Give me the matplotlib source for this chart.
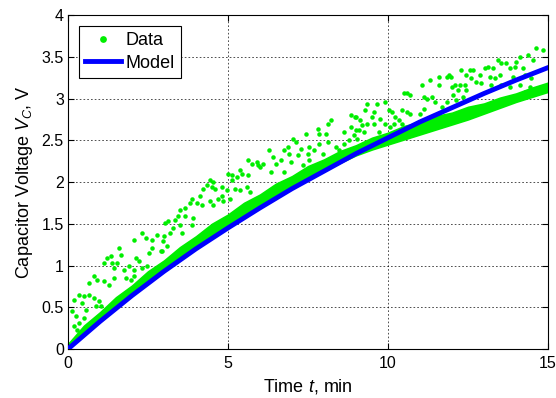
import numpy as np
import matplotlib
matplotlib.use("Agg")
import matplotlib.pyplot as plt

plt.rcParams['font.family'] = ['Liberation Sans', 'DejaVu Sans']
plt.rcParams['mathtext.fontset'] = 'custom'
plt.rcParams['mathtext.rm'] = 'Liberation Sans'
plt.rcParams['mathtext.it'] = 'Liberation Sans:italic'

# model curve
model_t = [0, 1, 2, 3, 4, 5, 6, 7, 8, 9, 10, 11, 12, 13, 14, 15]
model_v = [0, 0.33, 0.64, 0.93, 1.20, 1.45, 1.69, 1.92, 2.13, 2.34, 2.53, 2.72, 2.89, 3.06, 3.22, 3.37]

# dense band of data points (lower / upper edge)
band_t = [0, 0.5, 1, 1.5, 2, 2.5, 3, 3.5, 4, 4.5, 5, 5.5, 6, 6.5, 7, 7.5, 8, 8.5, 9, 9.5,
          10, 10.5, 11, 11.5, 12, 12.5, 13, 13.5, 14, 14.5, 15]
band_lo = [0, 0.17, 0.33, 0.49, 0.64, 0.79, 0.93, 1.07, 1.20, 1.33, 1.45, 1.57, 1.69, 1.81,
           1.92, 2.03, 2.13, 2.23, 2.32, 2.39, 2.45, 2.51, 2.57, 2.63, 2.69, 2.75, 2.82, 2.89,
           2.96, 3.02, 3.08]
band_hi = [0.06, 0.28, 0.44, 0.62, 0.76, 0.93, 1.06, 1.22, 1.35, 1.50, 1.61, 1.75, 1.85,
           1.98, 2.07, 2.19, 2.27, 2.37, 2.44, 2.53, 2.59, 2.67, 2.72, 2.79, 2.83, 2.90, 2.94,
           3.01, 3.06, 3.13, 3.19]

# scattered data points above the band
scat_t = [2.06, 2.32, 2.43, 2.64, 2.79, 3.0, 1.59, 1.65, 1.33, 1.23, 2.11, 2.22, 2.53, 2.64, 2.90,
          1.13, 1.39, 1.54, 1.44, 1.75, 1.91, 2.06, 2.32, 2.48, 0.81, 0.66, 0.92, 1.13, 1.28, 1.44,
          1.80, 1.96, 2.06, 0.19, 0.34, 0.5, 0.66, 0.81, 0.97, 0.45, 0.55, 0.86, 1.02, 0.14, 0.24,
          0.34, 0.19, 0.29, 0.5,
          5.64, 5.74, 5.9, 6.0, 5.38, 5.43, 5.01, 5.11, 5.27, 5.64, 4.44, 4.54, 4.33, 4.23, 4.49,
          4.59, 4.80, 5.11, 4.96, 5.22, 5.38, 5.58, 5.69, 4.13, 3.86, 3.81, 4.02, 4.18, 4.44, 4.54,
          4.80, 4.85, 5.06, 3.66, 3.5, 3.45, 3.34, 3.14, 3.03, 3.29, 3.5, 3.66, 3.86, 3.92, 3.19,
          2.98, 3.08, 2.93, 3.55, 4.70,
          8.84, 9.0, 8.84, 9.0, 8.63, 8.11, 8.22, 7.8, 7.85, 8.06, 7.44, 7.02, 7.13, 6.86, 7.28,
          7.54, 7.70, 7.85, 8.11, 8.38, 8.48, 8.63, 8.79, 6.29, 6.40, 6.76, 6.92, 6.66, 6.97, 7.18,
          7.49, 7.54, 7.96, 8.22, 6.34, 6.76, 6.08, 5.93, 6.5, 7.34,
          11.58, 11.84, 11.9, 11.32, 11.06, 11.58, 12.0, 10.49, 10.59, 10.70, 11.11, 11.22, 11.38,
          11.48, 9.34, 9.66, 9.92, 9.29, 9.55, 10.02, 10.13, 10.44, 10.59, 10.70, 11.01, 11.11,
          8.98, 9.14, 9.5, 9.76, 10.23, 10.33, 9.34, 9.55, 9.92, 10.44, 9.08, 9.24, 9.71, 10.07,
          10.18, 8.93, 9.03, 9.19, 11.69, 11.84,
          14.64, 14.84, 14.38, 14.53, 14.11, 14.01, 13.44, 13.54, 13.13, 13.02, 13.28, 13.70, 13.80,
          13.96, 14.22, 12.29, 12.55, 12.66, 12.45, 12.60, 12.86, 13.18, 13.33, 13.49, 13.91, 14.27,
          14.48, 11.98, 12.08, 12.24, 12.40, 12.76, 12.92, 13.23, 13.54, 13.80, 14.11, 14.43, 12.19,
          12.45, 12.03, 12.14, 12.34, 14.27, 14.58]
scat_v = [1.31, 1.39, 1.33, 1.31, 1.37, 1.35, 1.21, 1.13, 1.11, 1.09, 1.09, 1.05, 1.15, 1.21, 1.17,
          1.03, 1.03, 1.03, 0.97, 0.95, 0.99, 0.95, 0.97, 0.99, 0.87, 0.79, 0.83, 0.81, 0.77, 0.85,
          0.85, 0.83, 0.87, 0.59, 0.65, 0.63, 0.65, 0.61, 0.57, 0.55, 0.47, 0.51, 0.51, 0.45, 0.39,
          0.31, 0.27, 0.23, 0.37,
          2.26, 2.22, 2.24, 2.18, 2.14, 2.10, 2.10, 2.08, 2.06, 2.08, 2.02, 2.00, 1.96, 1.92, 1.94,
          1.92, 1.94, 2.02, 1.90, 1.92, 1.90, 1.94, 1.88, 1.83, 1.80, 1.75, 1.75, 1.73, 1.77, 1.73,
          1.83, 1.77, 1.80, 1.69, 1.67, 1.59, 1.55, 1.53, 1.51, 1.45, 1.49, 1.59, 1.49, 1.57, 1.39,
          1.29, 1.23, 1.17, 1.39, 1.80,
          2.80, 2.78, 2.66, 2.62, 2.60, 2.70, 2.74, 2.64, 2.58, 2.58, 2.58, 2.52, 2.48, 2.42, 2.40,
          2.42, 2.38, 2.46, 2.48, 2.42, 2.38, 2.46, 2.50, 2.38, 2.30, 2.38, 2.34, 2.26, 2.24, 2.32,
          2.34, 2.26, 2.34, 2.28, 2.12, 2.12, 2.22, 2.20, 2.22, 2.20,
          3.26, 3.26, 3.28, 3.22, 3.16, 3.16, 3.14, 3.06, 3.06, 3.04, 3.02, 3.00, 3.02,
          2.96, 2.94, 2.94, 2.96, 2.86, 2.84, 2.86, 2.84, 2.86, 2.84, 2.82, 2.82, 2.88,
          2.78, 2.74, 2.78, 2.76, 2.78, 2.74, 2.70, 2.70, 2.70, 2.70, 2.62, 2.60, 2.60, 2.66,
          2.70, 2.56, 2.52, 2.68, 2.90, 2.96,
          3.60, 3.58, 3.52, 3.46, 3.50, 3.44, 3.46, 3.42, 3.38, 3.36, 3.36, 3.42, 3.36,
          3.38, 3.36, 3.34, 3.34, 3.34, 3.28, 3.24, 3.28, 3.26, 3.24, 3.28, 3.26, 3.28,
          3.24, 3.26, 3.16, 3.16, 3.16, 3.20, 3.18, 3.16, 3.16, 3.14, 3.16, 3.14, 3.10,
          3.10, 3.04, 2.98, 3.02, 3.08, 3.10]

green = '#00ee00'
blue = '#0000ff'

fig = plt.figure(figsize=(5.56, 3.98), dpi=100)
ax = fig.add_axes([0.1223, 0.1231, 0.8633, 0.8392])

ax.fill_between(band_t, band_lo, band_hi, color=green, lw=1.2, edgecolor=green, zorder=2)
ax.plot(scat_t, scat_v, '.', color=green, ms=6.5, mew=0, label='Data', zorder=3)
ax.plot(model_t, model_v, '-', color=blue, lw=3.5, label='Model', zorder=4)

ax.set_xlim(0, 15)
ax.set_ylim(0, 4)
ax.set_xticks([0, 5, 10, 15])
ax.set_yticks([0, 0.5, 1, 1.5, 2, 2.5, 3, 3.5, 4])
ax.set_yticklabels(['0', '0.5', '1', '1.5', '2', '2.5', '3', '3.5', '4'])
ax.grid(True, color='black', linestyle=(0, (2, 2.5)), lw=0.6, alpha=0.8)
ax.tick_params(direction='in', top=True, right=True, labelsize=11.5, length=4, width=0.8)
ax.tick_params(axis='x', pad=5)
ax.tick_params(axis='y', pad=3)
for s in ax.spines.values():
    s.set_linewidth(0.8)

ax.set_xlabel('Time $t$, min', fontsize=13, labelpad=4)
ax.set_ylabel('Capacitor Voltage $V_C$, V', fontsize=13, labelpad=5)

leg = ax.legend(loc='upper left', fontsize=13, fancybox=False, edgecolor='black',
                borderaxespad=0.6, handlelength=2.0, handletextpad=0.25, borderpad=0.35,
                labelspacing=0.3, framealpha=1, markerscale=1.5)
leg.get_frame().set_linewidth(0.8)

fig.savefig('out.png', dpi=100)
